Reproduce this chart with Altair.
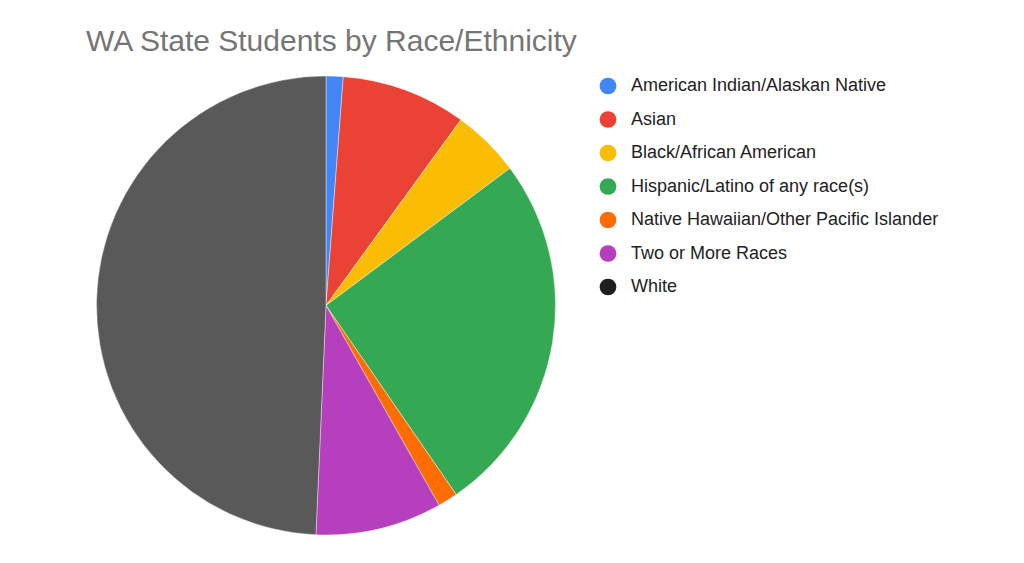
import altair as alt
import pandas as pd

categories = [
    "American Indian/Alaskan Native",
    "Asian",
    "Black/African American",
    "Hispanic/Latino of any race(s)",
    "Native Hawaiian/Other Pacific Islander",
    "Two or More Races",
    "White",
]
shares = [1.2, 8.8, 4.8, 25.6, 1.4, 8.9, 49.3]
colors = ["#4285F4", "#EA4335", "#FBBC04", "#34A853", "#FF6D01", "#B53FBD", "#595959"]
legend_colors = ["#4285F4", "#EA4335", "#FBBC04", "#34A853", "#FF6D01", "#B53FBD", "#1F1F1F"]
title_text = "WA State Students by Race/Ethnicity"

df = pd.DataFrame({"category": categories, "share": shares, "idx": list(range(len(categories)))})

W, H = 1008, 547
cx, cy, r = 326 - 8, 305.5 - 8, 229.5

pie = alt.Chart(df).mark_arc(radius=r, stroke="white", strokeWidth=0.4).encode(
    theta=alt.Theta("share:Q", stack=True),
    order=alt.Order("idx:Q"),
    x=alt.value(cx),
    y=alt.value(cy),
    color=alt.Color(
        "category:N",
        sort=categories,
        scale=alt.Scale(domain=categories, range=colors),
        legend=None,
    ),
)

legend_layer = alt.Chart(df).mark_circle(size=1).encode(
    x=alt.value(-50),
    y=alt.value(-50),
    fill=alt.Fill(
        "category:N",
        sort=categories,
        scale=alt.Scale(domain=categories, range=legend_colors),
        legend=alt.Legend(
            title=None,
            orient="none",
            legendX=591,
            legendY=69,
            symbolType="circle",
            symbolSize=280,
            symbolStrokeWidth=0,
            symbolOpacity=1,
            labelFontSize=18,
            labelFont="Liberation Sans",
            labelColor="#222222",
            labelOffset=14,
            rowPadding=15.5,
            labelLimit=400,
        ),
    ),
)

title = alt.Chart(pd.DataFrame({"t": [title_text]})).mark_text(
    align="left", baseline="alphabetic", fontSize=30, font="Liberation Sans", color="#757575"
).encode(text="t:N", x=alt.value(86 - 8), y=alt.value(51 - 8))

chart = alt.layer(pie, legend_layer, title).resolve_scale(color="independent").properties(
    width=W, height=H, padding=0, autosize=alt.AutoSizeParams(type="none")
).configure_view(stroke=None)

chart.save("out.html", embed_options={"renderer": "svg", "actions": False})
